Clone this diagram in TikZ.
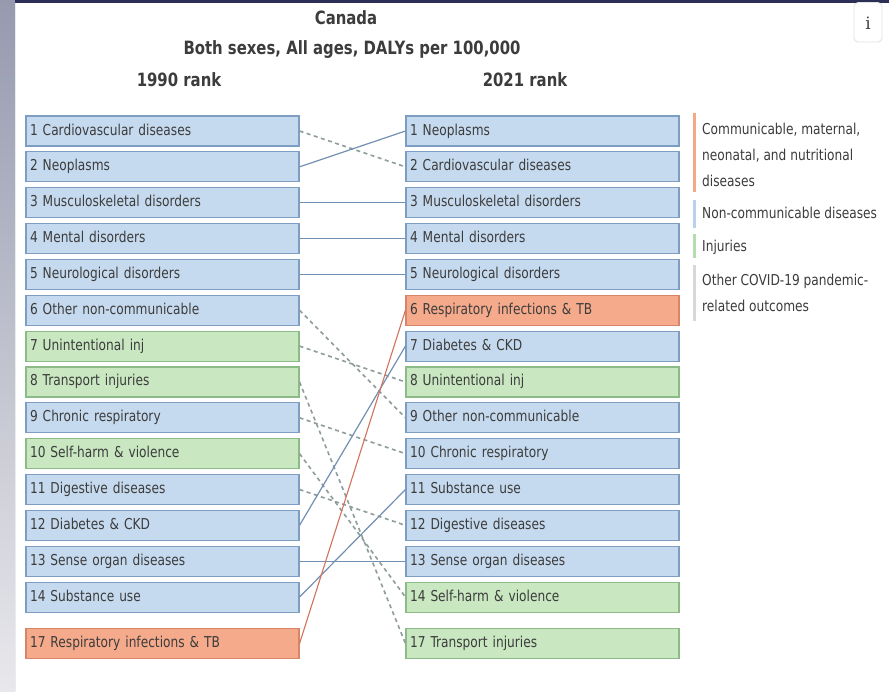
\documentclass[tikz,border=0pt]{standalone}
\usepackage{fontspec}
\setmainfont{DejaVu Sans}[FakeStretch=0.813]
\newfontfamily\infofont{DejaVu Serif}
\definecolor{bluefill}{HTML}{C6DAEF}
\definecolor{blueedge}{HTML}{7E9DC2}
\definecolor{greenfill}{HTML}{C9E7C1}
\definecolor{greenedge}{HTML}{8DBB87}
\definecolor{orangefill}{HTML}{F5AA8C}
\definecolor{orangeedge}{HTML}{D88466}
\definecolor{txt}{HTML}{3C3C3C}
\definecolor{solidline}{HTML}{7290B2}
\definecolor{dashline}{HTML}{8E9C9C}
\definecolor{redline}{HTML}{D2725A}
\definecolor{legorange}{HTML}{F4A886}
\definecolor{legblue}{HTML}{B9D1EA}
\definecolor{leggreen}{HTML}{B6DDB0}
\definecolor{leggray}{HTML}{D8D8D8}
\definecolor{navy}{HTML}{2B2F55}
\begin{document}
\begin{tikzpicture}[x=1pt,y=-1pt,
  box/.style={rectangle, line width=1.1pt, minimum height=30pt, inner xsep=4pt, inner ysep=0pt,
     text width=265pt, align=left, text height=11pt, text depth=3pt,
     font=\fontsize{15}{18}\selectfont, text=txt},
  ncd/.style={box, fill=bluefill, draw=blueedge},
  inj/.style={box, fill=greenfill, draw=greenedge},
  cmn/.style={box, fill=orangefill, draw=orangeedge},
  up/.style={draw=solidline, line width=1.2pt},
  down/.style={draw=dashline, line width=1.6pt, dash pattern=on 4pt off 3.5pt},
  resp/.style={draw=redline, line width=1.1pt},
  legtxt/.style={anchor=base west, inner sep=0pt, font=\fontsize{15}{18}\selectfont, text=txt},
  legbar/.style={line width=3pt},
  ttl/.style={anchor=base, inner sep=0pt, font=\fontsize{18.3}{21}\selectfont\bfseries, text=txt}
]
\useasboundingbox (0,0) rectangle (889,691);
\fill[white] (0,0) rectangle (889,691);
\shade[top color={rgb,255:red,150;green,154;blue,175}, bottom color={rgb,255:red,232;green,232;blue,236}] (0,0) rectangle (15,691);
\fill[navy] (15,0) rectangle (889,2.5);
\draw[black!8, line width=0.6pt] (15.3,2.5) -- (15.3,691);

% titles
\node[ttl] (t1) at (346,24) {Canada};
\node[ttl] (t2) at (352,54) {Both sexes, All ages, DALYs per 100,000};
\node[ttl] (t3) at (179,86) {1990 rank};
\node[ttl] (t4) at (525,86) {2021 rank};

% info button
\draw[black!12, line width=0.8pt, rounded corners=4pt] (854,2.5) rectangle (882,42);
\node[inner sep=0pt, font=\infofont\fontsize{17}{20}\selectfont, text=black!75] (info) at (868,23) {i};

% left column (1990)
\node[ncd] (L1)  at (162.5,131.00) {1 Cardiovascular diseases};
\node[ncd] (L2)  at (162.5,166.85) {2 Neoplasms};
\node[ncd] (L3)  at (162.5,202.70) {3 Musculoskeletal disorders};
\node[ncd] (L4)  at (162.5,238.55) {4 Mental disorders};
\node[ncd] (L5)  at (162.5,274.40) {5 Neurological disorders};
\node[ncd] (L6)  at (162.5,310.25) {6 Other non-communicable};
\node[inj] (L7)  at (162.5,346.10) {7 Unintentional inj};
\node[inj] (L8)  at (162.5,381.95) {8 Transport injuries};
\node[ncd] (L9)  at (162.5,417.80) {9 Chronic respiratory};
\node[inj] (L10) at (162.5,453.65) {10 Self-harm \& violence};
\node[ncd] (L11) at (162.5,489.50) {11 Digestive diseases};
\node[ncd] (L12) at (162.5,525.35) {12 Diabetes \& CKD};
\node[ncd] (L13) at (162.5,561.20) {13 Sense organ diseases};
\node[ncd] (L14) at (162.5,597.05) {14 Substance use};
\node[cmn] (L17) at (162.5,643.50) {17 Respiratory infections \& TB};

% right column (2021)
\node[ncd] (R1)  at (542.5,131.00) {1 Neoplasms};
\node[ncd] (R2)  at (542.5,166.85) {2 Cardiovascular diseases};
\node[ncd] (R3)  at (542.5,202.70) {3 Musculoskeletal disorders};
\node[ncd] (R4)  at (542.5,238.55) {4 Mental disorders};
\node[ncd] (R5)  at (542.5,274.40) {5 Neurological disorders};
\node[cmn] (R6)  at (542.5,310.25) {6 Respiratory infections \& TB};
\node[ncd] (R7)  at (542.5,346.10) {7 Diabetes \& CKD};
\node[inj] (R8)  at (542.5,381.95) {8 Unintentional inj};
\node[ncd] (R9)  at (542.5,417.80) {9 Other non-communicable};
\node[ncd] (R10) at (542.5,453.65) {10 Chronic respiratory};
\node[ncd] (R11) at (542.5,489.50) {11 Substance use};
\node[ncd] (R12) at (542.5,525.35) {12 Digestive diseases};
\node[ncd] (R13) at (542.5,561.20) {13 Sense organ diseases};
\node[inj] (R14) at (542.5,597.05) {14 Self-harm \& violence};
\node[inj] (R17) at (542.5,643.50) {17 Transport injuries};

% connectors
\draw[down] (L1.east) -- (R2.west);
\draw[up]   (L2.east) -- (R1.west);
\draw[up]   (L3.east) -- (R3.west);
\draw[up]   (L4.east) -- (R4.west);
\draw[up]   (L5.east) -- (R5.west);
\draw[down] (L6.east) -- (R9.west);
\draw[down] (L7.east) -- (R8.west);
\draw[down] (L8.east) -- (R17.west);
\draw[down] (L9.east) -- (R10.west);
\draw[down] (L10.east) -- (R14.west);
\draw[down] (L11.east) -- (R12.west);
\draw[up]   (L12.east) -- (R7.west);
\draw[up]   (L13.east) -- (R13.west);
\draw[up]   (L14.east) -- (R11.west);
\draw[resp] (L17.east) -- (R6.west);

% legend
\draw[legbar, legorange] (694,113) -- (694,192);
\draw[legbar, legblue]   (694,200) -- (694,228);
\draw[legbar, leggreen]  (694,234) -- (694,258);
\draw[legbar, leggray]   (694,265) -- (694,321);
\node[legtxt] (g1) at (702,134) {Communicable, maternal,};
\node[legtxt] (g2) at (702,160) {neonatal, and nutritional};
\node[legtxt] (g3) at (702,186) {diseases};
\node[legtxt] (g4) at (702,218) {Non-communicable diseases};
\node[legtxt] (g5) at (702,251) {Injuries};
\node[legtxt] (g6) at (702,285) {Other COVID-19 pandemic-};
\node[legtxt] (g7) at (702,311) {related outcomes};
\end{tikzpicture}
\end{document}
